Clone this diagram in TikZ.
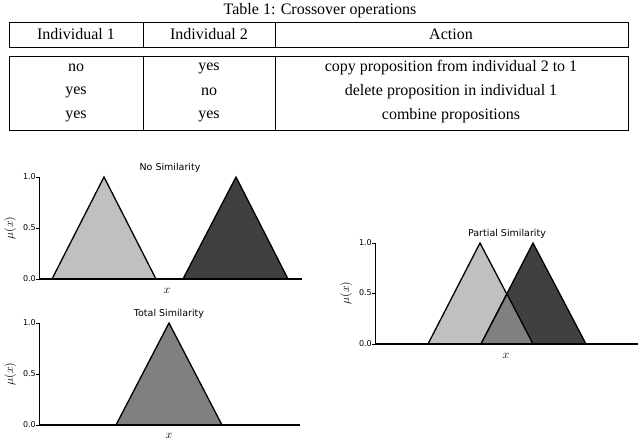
\documentclass[tikz,border=0pt]{standalone}
\usepackage{fontspec}
\setmainfont{Liberation Serif}
\newfontfamily\plotfont{DejaVu Sans}
\begin{document}
\begin{tikzpicture}[x=1pt,y=-1pt,
  tri/.style={draw=black,line width=1.3pt,line join=miter},
  tick/.style={font=\plotfont\fontsize{8}{9}\selectfont,anchor=east,inner sep=1pt},
  ttl/.style={font=\plotfont\fontsize{9.5}{10}\selectfont},
  lab/.style={font=\fontsize{12}{13}\selectfont},
  tbl/.style={font=\fontsize{16}{17}\selectfont}]
\useasboundingbox (0,0) rectangle (640,439);
% table
\node[tbl] (cap) at (320,11) {Table 1: Crossover operations};
\draw[line width=0.7pt] (9,22) rectangle (628,47);
\draw[line width=0.7pt] (9,56) rectangle (628,130);
\draw[line width=0.7pt] (143,22) -- (143,47) (275,22) -- (275,47) (143,56) -- (143,130) (275,56) -- (275,130);
\node[tbl] (h1) at (76,34) {Individual 1};
\node[tbl] (h2) at (209,34) {Individual 2};
\node[tbl] (h3) at (451,34) {Action};
\node[tbl] (a1) at (76,68) {no};
\node[tbl] (b1) at (209,68) {yes};
\node[tbl] (c1) at (451,68) {copy proposition from individual 2 to 1};
\node[tbl] (a2) at (76,92) {yes};
\node[tbl] (b2) at (209,92) {no};
\node[tbl] (c2) at (451,92) {delete proposition in individual 1};
\node[tbl] (a3) at (76,116) {yes};
\node[tbl] (b3) at (209,116) {yes};
\node[tbl] (c3) at (451,116) {combine propositions};
% plot 1
\draw[tri,fill={rgb,255:red,192;green,192;blue,192}] (52,279) -- (104,177) -- (156,279);
\draw[tri,fill={rgb,255:red,64;green,64;blue,64}] (183,279) -- (236,177) -- (288,279);
\draw[line width=0.7pt] (39,177) -- (39,279);
\draw[line width=1.3pt] (39,279) -- (302,279);
\foreach \v/\y in {0.0/279,0.5/228,1.0/177} {\draw (36,\y)--(39,\y); \node[tick] at (37,\y) {\v};}
\node[ttl] (t1) at (170,168) {No Similarity};
\node[lab] (x1) at (167,291) {$x$};
\node[lab,rotate=90] (y1) at (10,228) {$\mu(x)$};
% plot 2
\draw[tri,fill={rgb,255:red,128;green,128;blue,128}] (116,425) -- (169,323) -- (222,425);
\draw[line width=0.7pt] (39,323) -- (39,425);
\draw[line width=1.3pt] (39,425) -- (300,425);
\foreach \v/\y in {0.0/425,0.5/374,1.0/323} {\draw (36,\y)--(39,\y); \node[tick] at (37,\y) {\v};}
\node[ttl] (t2) at (169,314) {Total Similarity};
\node[lab] (x2) at (169,436) {$x$};
\node[lab,rotate=90] (y2) at (10,374) {$\mu(x)$};
% plot 3
\draw[tri,fill={rgb,255:red,192;green,192;blue,192}] (428,344) -- (480,243) -- (533,344);
\draw[tri,fill={rgb,255:red,64;green,64;blue,64}] (481,344) -- (533,243) -- (586,344);
\draw[tri,fill={rgb,255:red,128;green,128;blue,128}] (481,344) -- (507,294) -- (533,344);
\draw[line width=0.7pt] (375,243) -- (375,344);
\draw[line width=1.3pt] (375,344) -- (638,344);
\foreach \v/\y in {0.0/344,0.5/293,1.0/243} {\draw (372,\y)--(375,\y); \node[tick] at (373,\y) {\v};}
\node[ttl] (t3) at (507,234) {Partial Similarity};
\node[lab] (x3) at (506,356) {$x$};
\node[lab,rotate=90] (y3) at (346,293) {$\mu(x)$};
\end{tikzpicture}
\end{document}
